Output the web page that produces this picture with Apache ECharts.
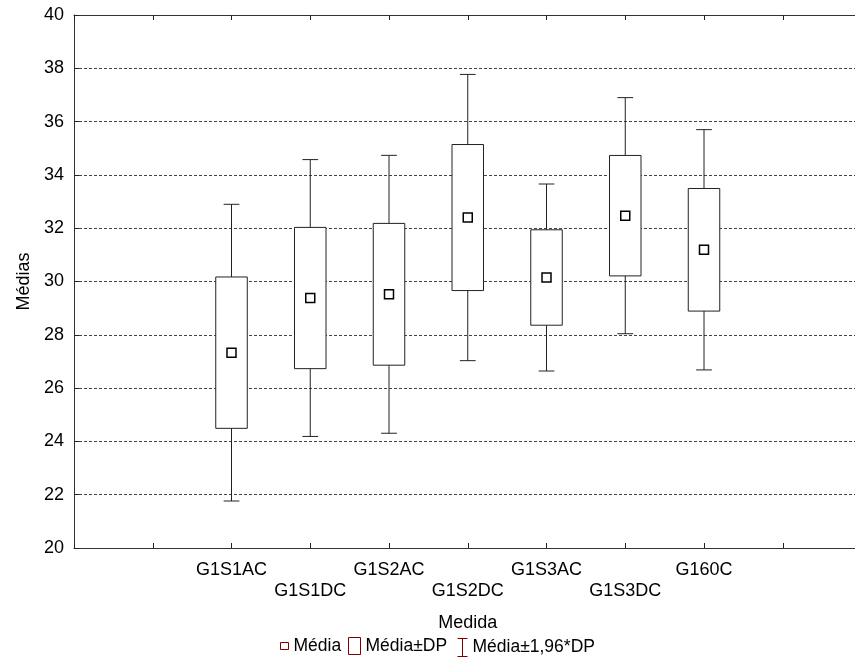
<!DOCTYPE html>
<html>
<head>
<meta charset="utf-8">
<title>Médias por medida</title>
<script src="https://cdn.jsdelivr.net/npm/echarts@6.0.0/dist/echarts.min.js"></script>
<style>
    html, body { margin: 0; padding: 0; background: #fff; }
    #chart { width: 855px; height: 659px; }
</style>
</head>
<body>
<div id="chart"></div>
<script>
// dados: média e desvio padrão (DP) de cada medida
let categories = ['G1S1AC', 'G1S1DC', 'G1S2AC', 'G1S2DC', 'G1S3AC', 'G1S3DC', 'G160C'];
let means = [27.33, 29.38, 29.52, 32.40, 30.15, 32.47, 31.19];
let sds = [2.84, 2.65, 2.66, 2.74, 1.79, 2.26, 2.30];
// as medidas ficam nas posições 2..8 de um eixo 0..10
let firstPos = 2;
let yMin = 20, yMax = 40, yStep = 2;

let fontFamily = "'Liberation Sans', Arial, sans-serif";
let lineColor = '#222';
let legendColor = '#800000';

function initChart(dom){
    let chartDom = document.getElementById(dom);
    let chartInstance = echarts.getInstanceByDom(chartDom);
    if(chartInstance){
        return chartInstance;
    }
    return echarts.init(chartDom, null, { renderer: 'canvas' });
}

// rótulos do eixo x alternados em duas linhas
function xLabel(value){
    let i = value - firstPos;
    if(i < 0 || i >= categories.length){
        return '';
    }
    return (i % 2) ? '\n' + categories[i] : categories[i];
}

// caixa Média±DP
function renderBox(params, api){
    let x = api.value(0);
    let top = api.coord([x, api.value(2)]);
    let bottom = api.coord([x, api.value(1)]);
    let w = api.size([0.4, 0])[0];
    return {
        type: 'rect',
        shape: { x: top[0] - w / 2, y: top[1], width: w, height: bottom[1] - top[1] },
        style: { fill: '#fff', stroke: lineColor, lineWidth: 1 }
    };
}

// bigodes Média±1,96*DP
function renderWhisker(params, api){
    let x = api.value(0);
    let top = api.coord([x, api.value(2)]);
    let bottom = api.coord([x, api.value(1)]);
    let half = api.size([0.2, 0])[0] / 2;
    let style = { stroke: lineColor, lineWidth: 1 };
    return {
        type: 'group',
        children: [
            { type: 'line', shape: { x1: top[0], y1: top[1], x2: bottom[0], y2: bottom[1] }, style: style },
            { type: 'line', shape: { x1: top[0] - half, y1: top[1], x2: top[0] + half, y2: top[1] }, style: style },
            { type: 'line', shape: { x1: bottom[0] - half, y1: bottom[1], x2: bottom[0] + half, y2: bottom[1] }, style: style }
        ]
    };
}

let meanData = [], boxData = [], whiskerData = [];
for(let i = 0; i < categories.length; i++){
    let x = firstPos + i;
    meanData.push([x, means[i]]);
    boxData.push([x, means[i] - sds[i], means[i] + sds[i]]);
    whiskerData.push([x, means[i] - 1.96 * sds[i], means[i] + 1.96 * sds[i]]);
}

let axisLine = { show: true, lineStyle: { color: '#333', width: 1 } };
let axisTick = { show: true, inside: true, length: 5, lineStyle: { color: '#222' } };
let textStyle = { fontSize: 18, color: '#000', fontFamily: fontFamily };
let legendText = { fontSize: 17.5, color: '#000', fontFamily: fontFamily };

let option = {
    animation: false,
    backgroundColor: '#fff',
    // a área do gráfico passa um pouco da borda direita, como no original
    grid: { left: 74, top: 15, width: 787.5, bottom: 111, containLabel: false, outerBoundsMode: 'none' },
    xAxis: [
        {
            type: 'value',
            position: 'bottom',
            min: 0, max: 10, interval: 1,
            axisLine: axisLine,
            axisTick: axisTick,
            axisLabel: Object.assign({ margin: 12, lineHeight: 21, formatter: xLabel }, textStyle),
            splitLine: { show: false },
            name: 'Medida',
            nameLocation: 'middle',
            nameGap: 66,
            nameTextStyle: textStyle
        },
        {
            type: 'value',
            position: 'top',
            min: 0, max: 10, interval: 1,
            axisLine: axisLine,
            axisTick: axisTick,
            axisLabel: { show: false },
            splitLine: { show: false }
        }
    ],
    yAxis: {
        type: 'value',
        min: yMin, max: yMax, interval: yStep,
        axisLine: axisLine,
        axisTick: axisTick,
        axisLabel: Object.assign({ margin: 10 }, textStyle),
        splitLine: { show: true, lineStyle: { color: '#444', width: 1, type: [3, 2] } },
        name: 'Médias',
        nameLocation: 'middle',
        nameGap: 41,
        nameTextStyle: textStyle
    },
    legend: [
        {
            left: 280, top: 637, padding: 0, itemWidth: 8, itemHeight: 7,
            selectedMode: false, textStyle: legendText,
            data: [{ name: 'Média', icon: 'rect', itemStyle: { color: '#fff', borderColor: legendColor, borderWidth: 1 } }]
        },
        {
            left: 348, top: 637, padding: 0, itemWidth: 12, itemHeight: 17,
            selectedMode: false, textStyle: legendText,
            data: [{ name: 'Média±DP', icon: 'rect', itemStyle: { color: '#fff', borderColor: legendColor, borderWidth: 1 } }]
        },
        {
            left: 455, top: 636, padding: 0, itemWidth: 10, itemHeight: 18,
            selectedMode: false, textStyle: legendText,
            data: [{ name: 'Média±1,96*DP', icon: 'path://M0,0L10,0M5,0L5,18M0,18L10,18', itemStyle: { color: 'none', borderColor: legendColor, borderWidth: 1 } }]
        }
    ],
    series: [
        {
            name: 'Média±1,96*DP',
            type: 'custom',
            renderItem: renderWhisker,
            encode: { x: 0, y: [1, 2] },
            data: whiskerData,
            z: 2
        },
        {
            name: 'Média±DP',
            type: 'custom',
            renderItem: renderBox,
            encode: { x: 0, y: [1, 2] },
            data: boxData,
            z: 3
        },
        {
            name: 'Média',
            type: 'scatter',
            symbol: 'rect',
            symbolSize: 9,
            itemStyle: { color: '#fff', borderColor: '#000', borderWidth: 1.5, opacity: 1 },
            data: meanData,
            z: 4
        }
    ]
};

let myChart = initChart('chart');
myChart.setOption(option);
</script>
</body>
</html>
